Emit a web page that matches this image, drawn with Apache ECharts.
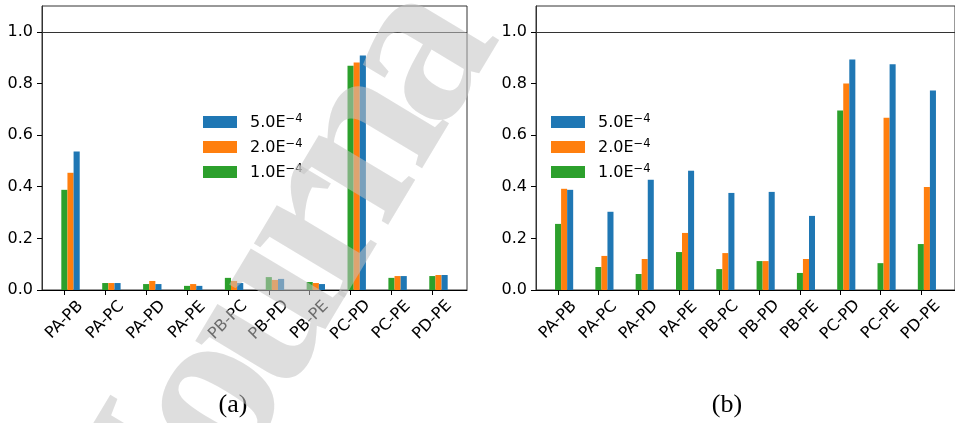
<!DOCTYPE html>
<html><head><meta charset="utf-8">
<script src="https://cdn.jsdelivr.net/npm/echarts@6/dist/echarts.min.js"></script>
<style>html,body{margin:0;padding:0;background:#fff}#c{width:955px;height:423px}</style>
</head><body><div id="c"></div>
<script>
// ---- data ----
const categories = ['PA-PB','PA-PC','PA-PD','PA-PE','PB-PC','PB-PD','PB-PE','PC-PD','PC-PE','PD-PE'];
const seriesNames = ['1.0E-4','2.0E-4','5.0E-4'];
const legendOrder = ['5.0E-4','2.0E-4','1.0E-4'];
const a_1e4 = [0.388,0.027,0.023,0.016,0.047,0.050,0.031,0.869,0.047,0.054];
const a_2e4 = [0.454,0.027,0.035,0.023,0.035,0.039,0.027,0.881,0.054,0.058];
const a_5e4 = [0.536,0.027,0.023,0.016,0.027,0.043,0.023,0.908,0.054,0.058];
const b_1e4 = [0.256,0.089,0.062,0.147,0.081,0.112,0.066,0.695,0.104,0.178];
const b_2e4 = [0.392,0.132,0.120,0.221,0.143,0.112,0.120,0.800,0.667,0.399];
const b_5e4 = [0.388,0.303,0.427,0.462,0.376,0.380,0.287,0.893,0.874,0.773];
const yTicks = [0,0.2,0.4,0.6,0.8,1.0];
const refLine = 1.0;
const captions = ['(a)','(b)'];
const watermarkLetters = ['J','o','u','r','n','a'];

// ---- style ----
const colors = ['#2ca02c','#ff7f0e','#1f77b4'];
const BW = 0.15;
const XMIN = -0.5475, XMAX = 9.8475;
const FONT = 'DejaVu Sans';
const xTickVals = categories.map((c,i)=>i);

function renderBar(params, api){
  const x = api.value(0), y = api.value(1);
  const p0 = api.coord([x - BW/2, y]);
  const p1 = api.coord([x + BW/2, 0]);
  return {type:'rect', shape:{x:p0[0], y:p0[1], width:p1[0]-p0[0], height:p1[1]-p0[1]},
          style:{fill: api.visual('color')}};
}
function makeSeries(g, k, values){
  const s = {
    type:'custom', name: seriesNames[k], xAxisIndex:g, yAxisIndex:g,
    itemStyle:{color: colors[k]}, renderItem: renderBar, encode:{x:0,y:1},
    data: values.map((v,i)=>[i + k*BW, v])
  };
  if (k === 0) {
    s.markLine = {symbol:'none', silent:true, label:{show:false},
      lineStyle:{color:'#333', width:1, type:'solid'},
      data:[[{coord:[XMIN, refLine]}, {coord:[XMAX, refLine]}]]};
  }
  return s;
}
function xAxis(g){
  return {type:'value', gridIndex:g, min:XMIN, max:XMAX, splitLine:{show:false},
    axisLine:{show:true, onZero:false, lineStyle:{color:'#000', width:1}},
    axisTick:{show:true, customValues:xTickVals, length:5, lineStyle:{color:'#000'}},
    axisLabel:{customValues:xTickVals, formatter:v=>categories[Math.round(v)], rotate:45,
      align:'center', verticalAlign:'middle', margin:30, fontSize:16, color:'#000', fontFamily:FONT}};
}
function yAxis(g){
  return {type:'value', gridIndex:g, min:0, max:1.1, splitLine:{show:false},
    axisLine:{show:true, onZero:false, lineStyle:{color:'#333', width:1}},
    axisTick:{show:true, customValues:yTicks, length:5, lineStyle:{color:'#000'}},
    axisLabel:{customValues:yTicks, formatter:v=>v.toFixed(1), margin:9, fontSize:16, color:'#000', fontFamily:FONT}};
}
function legend(left){
  return {left:left, top:113, padding:0, orient:'vertical', itemWidth:34, itemHeight:12, itemGap:7,
    icon:'rect', data:legendOrder, selectedMode:false,
    formatter: n => '{m|' + n.split('-')[0] + '}{s|\u2212' + n.split('-')[1] + '}',
    textStyle:{fontFamily:FONT, color:'#000', fontSize:16,
      rich:{m:{fontFamily:FONT, fontSize:16, color:'#000', lineHeight:18, verticalAlign:'bottom', padding:[0,0,0,8]},
            s:{fontFamily:FONT, fontSize:11.5, color:'#000', lineHeight:11, verticalAlign:'top'}}}};
}

// watermark (decoration, not data): letters along a rotated baseline
const WM_ANGLE = 1.03, WM_F = 230;
const WM_O = [190, 388];            // centre of the "o"
const WM_STEP = [-98, 0, 103.6, 201.8, 299.9, 403.5];
const ux = Math.cos(WM_ANGLE), uy = -Math.sin(WM_ANGLE);
const wmGraphics = watermarkLetters.map((ch, k) => ({
  type:'text', silent:true, z:100, rotation:WM_ANGLE,
  x: WM_O[0] + WM_STEP[k]*ux + 0.115*WM_F*Math.sin(WM_ANGLE),
  y: WM_O[1] + WM_STEP[k]*uy + 0.115*WM_F*Math.cos(WM_ANGLE),
  style:{text:ch, fontSize:WM_F, fontWeight:'bold', fontFamily:'Liberation Serif',
         fill:'rgba(195,195,195,0.55)', align:'center', verticalAlign:'middle'}
}));

const chart = echarts.init(document.getElementById('c'), null, {renderer:'canvas'});
chart.setOption({
  animation:false,
  backgroundColor:'#fff',
  grid:[
    {left:42, top:6, width:425, height:284, show:true, borderColor:'#333', borderWidth:1, backgroundColor:'transparent'},
    {left:536, top:6, width:425, height:284, show:true, borderColor:'#333', borderWidth:1, backgroundColor:'transparent'}
  ],
  xAxis:[xAxis(0), xAxis(1)],
  yAxis:[yAxis(0), yAxis(1)],
  legend:[legend(203), legend(551)],
  series:[
    makeSeries(0,0,a_1e4), makeSeries(0,1,a_2e4), makeSeries(0,2,a_5e4),
    makeSeries(1,0,b_1e4), makeSeries(1,1,b_2e4), makeSeries(1,2,b_5e4)
  ],
  graphic:[
    {type:'text', x:233, y:405, style:{text:captions[0], fontSize:26, fontFamily:'Liberation Serif', fill:'#000', align:'center', verticalAlign:'middle'}},
    {type:'text', x:727, y:405, style:{text:captions[1], fontSize:26, fontFamily:'Liberation Serif', fill:'#000', align:'center', verticalAlign:'middle'}}
  ].concat(wmGraphics)
});
</script></body></html>
